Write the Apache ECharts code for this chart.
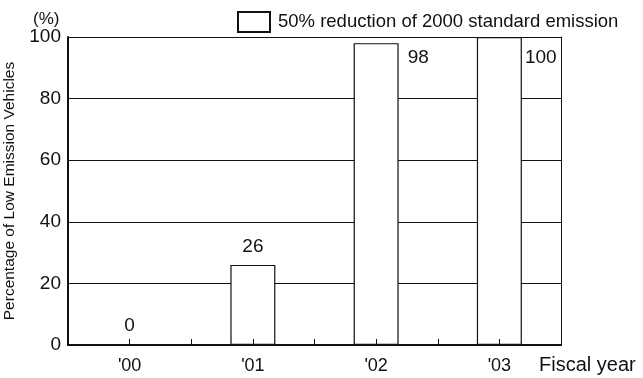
<!DOCTYPE html>
<html>
<head>
<meta charset="utf-8">
<style>
  html, body { margin: 0; padding: 0; background: #fff; }
  #chart { width: 643px; height: 378px; }
</style>
<script src="https://cdn.jsdelivr.net/npm/echarts@6/dist/echarts.min.js"></script>
</head>
<body>
<div id="chart"></div>
<script>
// Share of low emission vehicles by fiscal year
const categories = ["'00", "'01", "'02", "'03"];
const values = [0, 26, 98, 100];
const seriesName = '50% reduction of 2000 standard emission';
const yTicks = [0, 20, 40, 60, 80, 100];

const FONT = '"Liberation Sans", Arial, Helvetica, sans-serif';
const INK = '#111';

// Small values sit on top of their bar; tall ones are labelled beside the bar top
function labelFor(v) {
  if (v < 50) {
    return { show: true, position: 'top', distance: 9 };
  }
  return {
    show: true,
    position: ['100%', 0],
    align: 'left',
    verticalAlign: 'top',
    offset: v >= 100 ? [3, 11] : [9, 5]
  };
}

const chart = echarts.init(document.getElementById('chart'));
chart.setOption({
  animation: false,
  backgroundColor: '#fff',
  textStyle: { fontFamily: FONT, color: INK },
  grid: { left: 68, right: 82, top: 37, bottom: 33, containLabel: false, outerBoundsMode: 'none' },
  legend: {
    left: 232, top: 6,
    icon: 'rect',
    itemWidth: 32, itemHeight: 20,
    textStyle: { fontFamily: FONT, fontSize: 18.5, color: INK, padding: [0, 0, 0, 3] },
    data: [seriesName]
  },
  xAxis: [
    {
      type: 'category',
      data: categories,
      z: 5,
      axisLine: { lineStyle: { color: INK, width: 2 } },
      axisTick: { show: true, inside: true, length: 6, lineStyle: { color: INK } },
      axisLabel: { fontFamily: FONT, fontSize: 18, color: INK, margin: 12 },
      splitLine: { show: false }
    },
    {
      type: 'category',
      data: categories,
      position: 'bottom',
      z: 5,
      axisLine: { show: false },
      axisTick: { show: true, inside: true, alignWithLabel: true, length: 6, lineStyle: { color: INK } },
      axisLabel: { show: false },
      splitLine: { show: false }
    }
  ],
  yAxis: [
    {
      type: 'value',
      min: yTicks[0],
      max: yTicks[yTicks.length - 1],
      interval: yTicks[1] - yTicks[0],
      name: 'Percentage of Low Emission Vehicles',
      nameLocation: 'middle',
      nameGap: 50,
      nameTextStyle: { fontFamily: FONT, fontSize: 15.5, color: INK },
      axisLine: { show: true, lineStyle: { color: INK, width: 2 } },
      axisTick: { show: false },
      axisLabel: { fontFamily: FONT, fontSize: 19, color: INK, margin: 7 },
      splitLine: { show: true, lineStyle: { color: INK, width: 1 } }
    },
    {
      type: 'value',
      position: 'right',
      min: yTicks[0],
      max: yTicks[yTicks.length - 1],
      axisLine: { show: true, lineStyle: { color: INK, width: 1 } },
      axisTick: { show: false },
      axisLabel: { show: false },
      splitLine: { show: false }
    }
  ],
  series: [
    {
      name: seriesName,
      type: 'bar',
      xAxisIndex: 0,
      yAxisIndex: 0,
      barWidth: 45,
      itemStyle: { color: '#fff', borderColor: INK, borderWidth: 1.2 },
      label: { fontFamily: FONT, fontSize: 19, color: INK },
      data: values.map(v => ({ value: v, label: labelFor(v) }))
    }
  ],
  graphic: [
    {
      type: 'text', left: 33, top: 11,
      style: { text: '(%)', font: '17px ' + FONT, fill: INK }
    },
    {
      type: 'text', left: 539, top: 355,
      style: { text: 'Fiscal year', font: '20px ' + FONT, fill: INK }
    }
  ]
});
</script>
</body>
</html>
